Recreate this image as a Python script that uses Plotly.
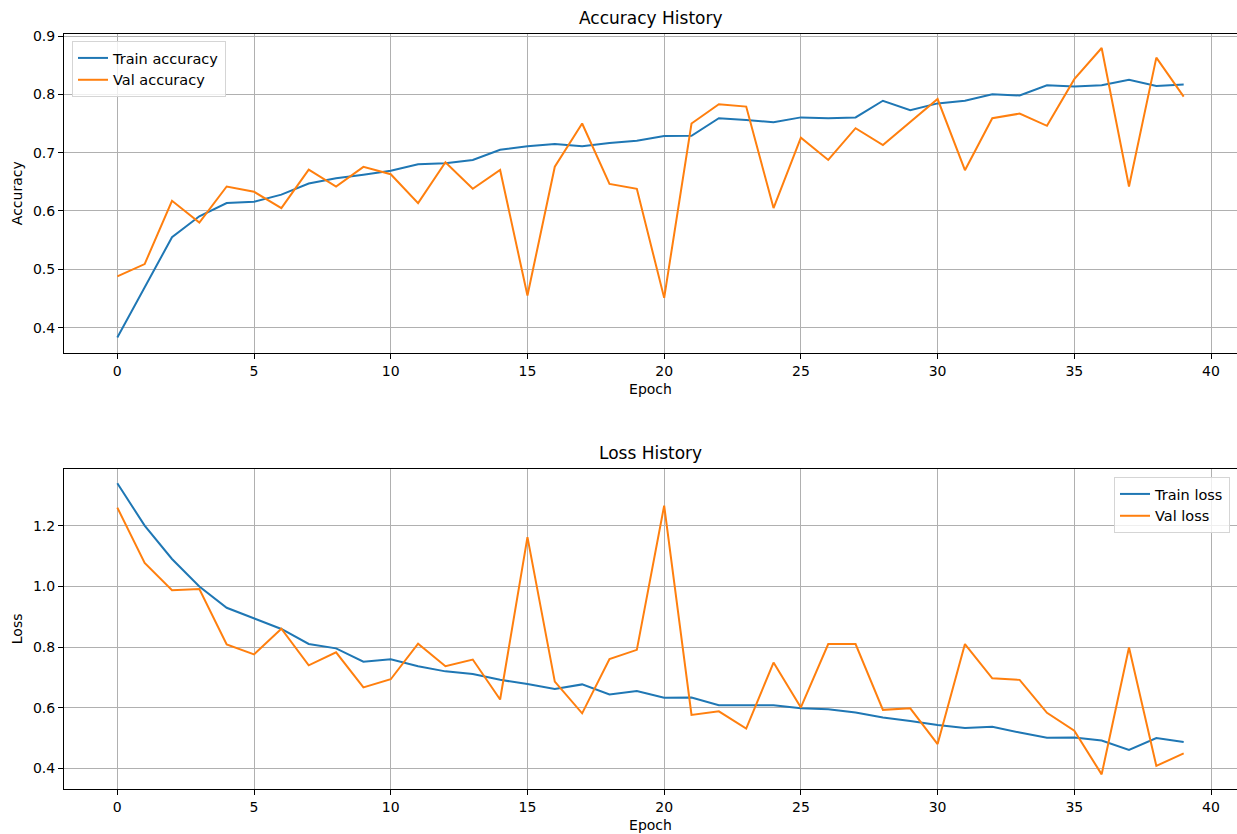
import plotly.graph_objects as go

epochs = list(range(40))

train_acc = [0.383, 0.468, 0.555, 0.591, 0.6135, 0.616, 0.628, 0.647, 0.656, 0.662,
             0.669, 0.680, 0.682, 0.6875, 0.705, 0.711, 0.715, 0.711, 0.7166, 0.7205,
             0.7285, 0.729, 0.759, 0.756, 0.752, 0.7605, 0.759, 0.7605, 0.789, 0.773,
             0.7845, 0.789, 0.800, 0.798, 0.8157, 0.8135, 0.8157, 0.825, 0.8145, 0.817]
val_acc = [0.488, 0.509, 0.6175, 0.580, 0.642, 0.633, 0.605, 0.671, 0.642, 0.6756,
           0.663, 0.6135, 0.6836, 0.638, 0.6704, 0.455, 0.676, 0.750, 0.6465, 0.638,
           0.451, 0.750, 0.783, 0.779, 0.605, 0.7256, 0.6875, 0.742, 0.713, 0.753,
           0.792, 0.670, 0.759, 0.767, 0.746, 0.826, 0.8795, 0.642, 0.863, 0.796]

train_loss = [1.341, 1.201, 1.091, 1.000, 0.930, 0.895, 0.860, 0.8104, 0.796, 0.752,
              0.760, 0.737, 0.720, 0.711, 0.692, 0.678, 0.662, 0.677, 0.644, 0.655,
              0.633, 0.634, 0.608, 0.608, 0.608, 0.598, 0.595, 0.584, 0.568, 0.556,
              0.543, 0.533, 0.537, 0.518, 0.501, 0.502, 0.492, 0.4605, 0.500, 0.487]
val_loss = [1.2605, 1.078, 0.988, 0.992, 0.809, 0.776, 0.861, 0.740, 0.783, 0.667,
            0.694, 0.8115, 0.737, 0.759, 0.627, 1.163, 0.686, 0.5815, 0.761, 0.791,
            1.267, 0.576, 0.588, 0.531, 0.749, 0.601, 0.810, 0.810, 0.593, 0.598,
            0.480, 0.810, 0.697, 0.692, 0.583, 0.524, 0.380, 0.799, 0.408, 0.4495]

x_ticks = [0, 5, 10, 15, 20, 25, 30, 35, 40]
acc_ticks = [0.4, 0.5, 0.6, 0.7, 0.8, 0.9]
loss_ticks = [0.4, 0.6, 0.8, 1.0, 1.2]

BLUE = "#1f77b4"
ORANGE = "#ff7f0e"
FONT = "DejaVu Sans"
W, H = 1237, 834

fig = go.Figure()
fig.add_trace(go.Scatter(x=epochs, y=train_acc, mode="lines", name="Train accuracy",
                         line=dict(color=BLUE, width=2), xaxis="x", yaxis="y", legend="legend"))
fig.add_trace(go.Scatter(x=epochs, y=val_acc, mode="lines", name="Val accuracy",
                         line=dict(color=ORANGE, width=2), xaxis="x", yaxis="y", legend="legend"))
fig.add_trace(go.Scatter(x=epochs, y=train_loss, mode="lines", name="Train loss",
                         line=dict(color=BLUE, width=2), xaxis="x2", yaxis="y2", legend="legend2"))
fig.add_trace(go.Scatter(x=epochs, y=val_loss, mode="lines", name="Val loss",
                         line=dict(color=ORANGE, width=2), xaxis="x2", yaxis="y2", legend="legend2"))

L = 64
plot_w = W - L
top_dom = [1 - 352.7 / H, 1 - 33.7 / H]
bot_dom = [1 - 788.7 / H, 1 - 469 / H]

axis_common = dict(showline=True, mirror=True, linecolor="black", linewidth=1,
                   showgrid=True, gridcolor="#b0b0b0", gridwidth=1,
                   ticks="outside", ticklen=5, tickcolor="black", tickwidth=1,
                   tickfont=dict(family=FONT, size=14, color="black"),
                   zeroline=False, automargin=False)

xrange = [-1.95, 40.95]

fig.update_layout(
    width=W, height=H,
    margin=dict(l=L, r=0, t=0, b=0, autoexpand=False),
    paper_bgcolor="white", plot_bgcolor="white",
    font=dict(family=FONT, size=14, color="black"),
    xaxis=dict(domain=[0, 1], anchor="y", range=xrange, tickvals=x_ticks,
               title=dict(text="Epoch", font=dict(family=FONT, size=14), standoff=6),
               **axis_common),
    yaxis=dict(domain=top_dom, anchor="x", range=[0.357, 0.904], tickvals=acc_ticks,
               tickformat=".1f",
               title=dict(text="Accuracy", font=dict(family=FONT, size=14), standoff=7),
               **axis_common),
    xaxis2=dict(domain=[0, 1], anchor="y2", range=xrange, tickvals=x_ticks,
                title=dict(text="Epoch", font=dict(family=FONT, size=14), standoff=6),
                **axis_common),
    yaxis2=dict(domain=bot_dom, anchor="x2", range=[0.3327, 1.388], tickvals=loss_ticks,
                tickformat=".1f",
                title=dict(text="Loss", font=dict(family=FONT, size=14), standoff=7),
                **axis_common),
    legend=dict(x=(72 - L) / plot_w, y=1 - 41 / H, xref="paper", yref="paper",
                xanchor="left", yanchor="top",
                bgcolor="rgba(255,255,255,0.8)", bordercolor="#d5d5d5", borderwidth=1,
                font=dict(family=FONT, size=14.5, color="black"), tracegroupgap=0,
                itemwidth=30),
    legend2=dict(x=(1230 - L) / plot_w, y=1 - 477 / H, xref="paper", yref="paper",
                 xanchor="right", yanchor="top",
                 bgcolor="rgba(255,255,255,0.8)", bordercolor="#d5d5d5", borderwidth=1,
                 font=dict(family=FONT, size=14.5, color="black"), tracegroupgap=0,
                 itemwidth=30),
    annotations=[
        dict(text="Accuracy History", xref="paper", yref="paper", x=0.5, y=top_dom[1],
             xanchor="center", yanchor="bottom", yshift=4, showarrow=False,
             font=dict(family=FONT, size=17, color="black")),
        dict(text="Loss History", xref="paper", yref="paper", x=0.5, y=bot_dom[1],
             xanchor="center", yanchor="bottom", yshift=4, showarrow=False,
             font=dict(family=FONT, size=17, color="black")),
    ],
    showlegend=True,
)

fig.write_html("out.html",
               config={"displayModeBar": False},
               post_script="document.body.style.margin='0';document.body.style.overflow='hidden';")
